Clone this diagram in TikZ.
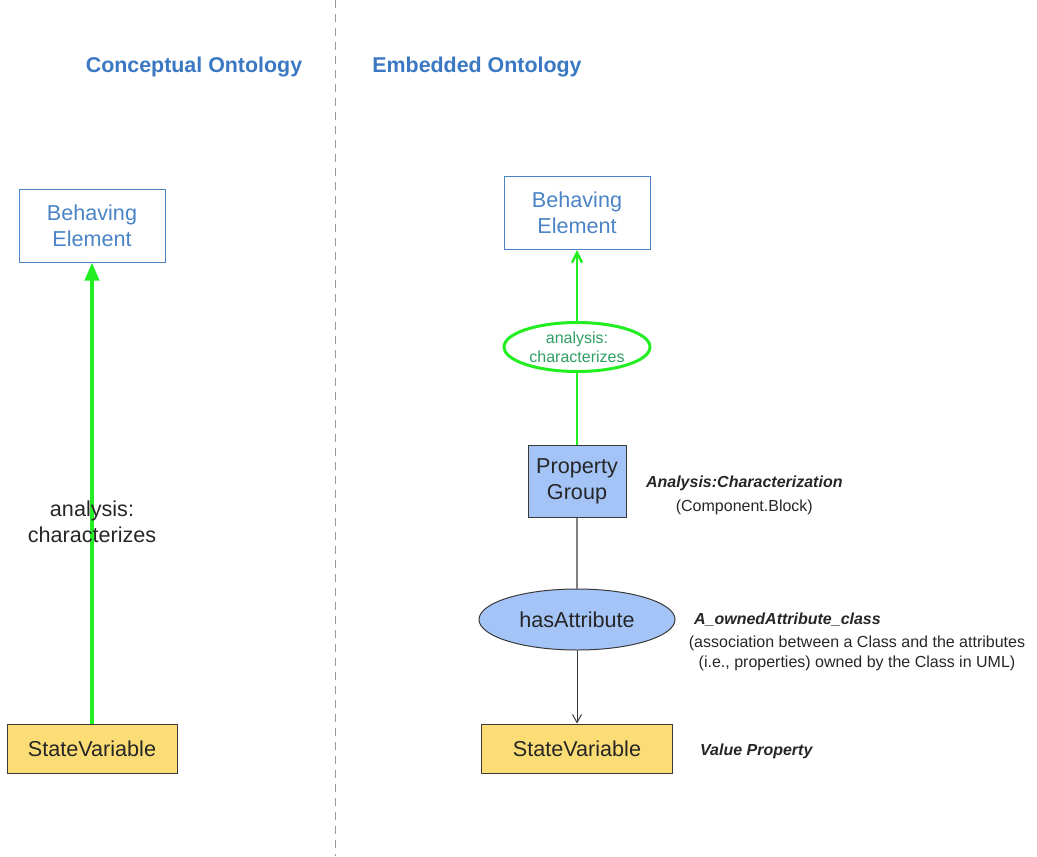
\documentclass[tikz,border=0pt]{standalone}
\usepackage{fontspec}
\setmainfont{Liberation Sans}
\usetikzlibrary{shapes.geometric,arrows.meta}

\definecolor{titleblue}{HTML}{3A78C3}
\definecolor{boxblue}{HTML}{4A83C6}
\definecolor{linegreen}{HTML}{22EE22}
\definecolor{textgreen}{HTML}{2E9E62}
\definecolor{svyellow}{HTML}{FCDC74}
\definecolor{pgblue}{HTML}{A4C4F7}
\definecolor{darkline}{HTML}{3A3A3A}

\tikzset{
  boxfont/.style={font=\fontsize{10.8}{13}\selectfont},
  headline/.style={text=titleblue, font=\fontsize{10.7}{13}\selectfont\bfseries},
  behavebox/.style={draw=boxblue, line width=0.5pt, text=boxblue, boxfont, align=center,
    minimum width=73pt, minimum height=36.5pt, inner sep=0pt},
  svbox/.style={draw=darkline, fill=svyellow, line width=0.5pt, text=black!85, boxfont,
    minimum height=24.5pt, inner sep=0pt},
  pgbox/.style={draw=darkline, fill=pgblue, line width=0.5pt, text=black!85, boxfont, align=center,
    minimum width=49pt, minimum height=36pt, inner sep=0pt},
  charellipse/.style={ellipse, draw=linegreen, line width=1.5pt, text=textgreen,
    font=\fontsize{8}{9.5}\selectfont, align=center, minimum width=73pt, minimum height=24.5pt, inner sep=0pt},
  hasellipse/.style={ellipse, draw=darkline, fill=pgblue, line width=0.5pt, text=black!85, boxfont,
    minimum width=98pt, minimum height=30.5pt, inner sep=0pt},
  stereo/.style={font=\fontsize{8}{12}\selectfont, text=black!85},
}

\begin{document}
\begin{tikzpicture}[x=0.5pt,y=-0.5pt]
\useasboundingbox (0,0) rectangle (1037,856);

\coordinate (divtop) at (335,0);
\coordinate (divbot) at (335,856);
\draw[gray!80, line width=0.5pt, dash pattern=on 4pt off 3pt] (divtop) -- (divbot);

\node[headline] (concept) at (194,67) {Conceptual Ontology};
\node[headline] (embedded) at (477,67) {Embedded Ontology};

% conceptual side
\node[behavebox] (be1) at (92,225.5) {Behaving\\Element};
\node[svbox, minimum width=85pt] (sv1) at (92,748.5) {StateVariable};
\draw[linegreen, line width=2pt, -{Triangle[length=9pt,width=7pt]}] (sv1) -- (be1);
\node[boxfont, align=center, text=black!85] (chlabel) at (92,522) {analysis:\\characterizes};

% embedded side
\node[behavebox] (be2) at (577,213) {Behaving\\Element};
\node[charellipse] (chnode) at (577,347) {analysis:\\characterizes};
\node[pgbox] (pg) at (577,481) {Property\\Group};
\node[hasellipse] (has) at (577,619.5) {hasAttribute};
\node[svbox, minimum width=95.5pt] (sv2) at (577,748.5) {StateVariable};

\draw[linegreen, line width=1.2pt, -{Straight Barb[length=5pt,width=5pt]}] (chnode) -- (be2);
\draw[linegreen, line width=1.2pt] (pg) -- (chnode);
\draw[gray, line width=0.6pt] (pg) -- (has);
\draw[darkline, line width=0.5pt, -{Straight Barb[length=4pt,width=4.5pt]}] (has) -- (sv2);

\node[right of=pg, anchor=west, node distance=31pt, stereo, align=center, yshift=-7pt] (pgnote)
  {{\bfseries\itshape Analysis:Characterization}\\(Component.Block)};
\node[right of=has, anchor=west, node distance=55pt, stereo] (hasnote)
  {\bfseries\itshape A\_ownedAttribute\_class};
\node[stereo, align=center, font=\fontsize{8}{10}\selectfont] (hasdesc) at (857,653)
  {(association between a Class and the attributes\\(i.e., properties) owned by the Class in UML)};
\node[right of=sv2, anchor=west, node distance=58pt, stereo, yshift=-1.5pt] (svnote)
  {\bfseries\itshape Value Property};
\end{tikzpicture}
\end{document}
